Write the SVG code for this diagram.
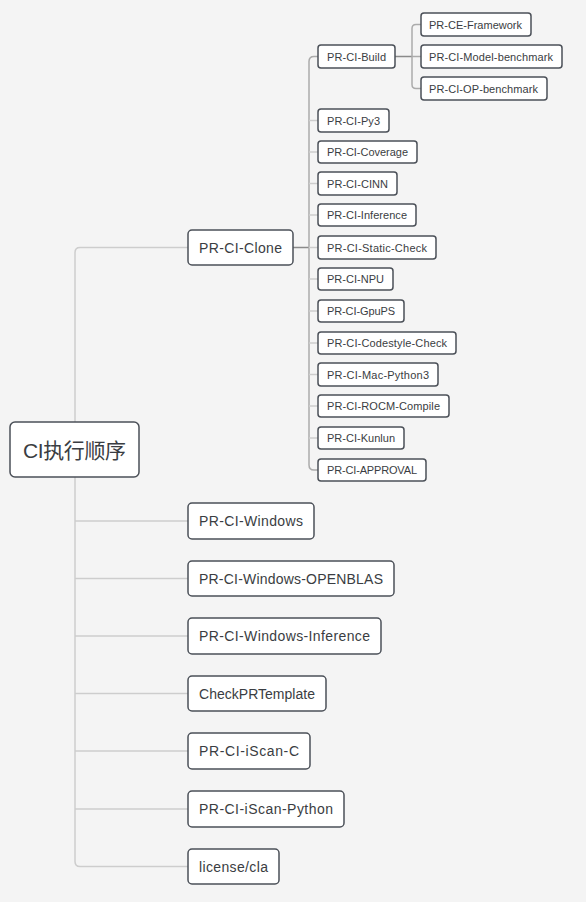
<svg xmlns="http://www.w3.org/2000/svg" width="586" height="902" viewBox="0 0 586 902">
<style>
.bg{fill:#f4f4f4}
.n rect{fill:#ffffff;stroke:#4b5058;stroke-width:1.5}
.n text{fill:#3a3d42;font-family:"Liberation Sans","Noto Sans CJK SC",Arial,sans-serif}
.l0 text{font-size:21px}
.l1 text{font-size:14px}
.l2 text{font-size:11px}
.c path{fill:none;stroke-width:1.5}
.c .soft{stroke:#cdcdcd}
.c .mid{stroke:#ababab}
.c .dark{stroke:#8a8a8a}
</style>
<rect class="bg" x="0" y="0" width="586" height="902"/>
<g id="connectors" class="c">
  <path class="soft" d="M188,247.5 H80 Q75,247.5 75,252.5 V861.5 Q75,866.5 80,866.5 H188"/>
  <path class="soft" d="M75,521 H188 M75,578.5 H188 M75,636 H188 M75,693.5 H188 M75,751 H188 M75,809 H188"/>
  <path class="dark" d="M293,247.5 H309"/>
  <path class="mid" d="M318,56.5 H314 Q309,56.5 309,61.5 V465 Q309,470 314,470 H318"/>
  <path class="soft" d="M309,120.5 H318 M309,152 H318 M309,183.5 H318 M309,215 H318 M309,247.5 H318 M309,279 H318 M309,311 H318 M309,343 H318 M309,374.5 H318 M309,406 H318 M309,438 H318"/>
  <path class="dark" d="M395,56.5 H412"/>
  <path class="mid" d="M421,24.5 H416 Q412,24.5 412,28.5 V84.5 Q412,88.5 416,88.5 H421 M412,56.5 H421"/>
</g>
<g id="root" class="n l0"><rect x="10" y="422" width="129" height="55" rx="5"/><text x="23" y="457.5" textLength="103" lengthAdjust="spacing">CI执行顺序</text></g>
<g id="clone" class="n l1"><rect x="188" y="230" width="105" height="35" rx="4"/><text x="199" y="252.5" textLength="83" lengthAdjust="spacing">PR-CI-Clone</text></g>
<g id="windows" class="n l1"><rect x="188" y="503" width="126" height="36" rx="4"/><text x="199" y="526" textLength="104" lengthAdjust="spacing">PR-CI-Windows</text></g>
<g id="openblas" class="n l1"><rect x="188" y="561" width="206" height="35" rx="4"/><text x="199" y="583.5" textLength="184" lengthAdjust="spacing">PR-CI-Windows-OPENBLAS</text></g>
<g id="wininference" class="n l1"><rect x="188" y="618" width="193" height="36" rx="4"/><text x="199" y="641" textLength="171" lengthAdjust="spacing">PR-CI-Windows-Inference</text></g>
<g id="checkpr" class="n l1"><rect x="188" y="676" width="138" height="35" rx="4"/><text x="199" y="698.5" textLength="116" lengthAdjust="spacing">CheckPRTemplate</text></g>
<g id="iscanc" class="n l1"><rect x="188" y="733" width="122" height="36" rx="4"/><text x="199" y="756" textLength="100" lengthAdjust="spacing">PR-CI-iScan-C</text></g>
<g id="iscanpy" class="n l1"><rect x="188" y="791" width="156" height="36" rx="4"/><text x="199" y="814" textLength="134" lengthAdjust="spacing">PR-CI-iScan-Python</text></g>
<g id="license" class="n l1"><rect x="188" y="849" width="91" height="35" rx="4"/><text x="199" y="871.5" textLength="69" lengthAdjust="spacing">license/cla</text></g>
<g id="build" class="n l2"><rect x="318" y="45" width="77" height="23" rx="3"/><text x="327" y="60.5" textLength="59" lengthAdjust="spacing">PR-CI-Build</text></g>
<g id="py3" class="n l2"><rect x="318" y="109" width="71" height="23" rx="3"/><text x="327" y="124.5" textLength="53" lengthAdjust="spacing">PR-CI-Py3</text></g>
<g id="coverage" class="n l2"><rect x="318" y="141" width="99" height="22" rx="3"/><text x="327" y="156" textLength="81" lengthAdjust="spacing">PR-CI-Coverage</text></g>
<g id="cinn" class="n l2"><rect x="318" y="172" width="79" height="23" rx="3"/><text x="327" y="187.5" textLength="61" lengthAdjust="spacing">PR-CI-CINN</text></g>
<g id="inference" class="n l2"><rect x="318" y="204" width="98" height="22" rx="3"/><text x="327" y="219" textLength="80" lengthAdjust="spacing">PR-CI-Inference</text></g>
<g id="static" class="n l2"><rect x="318" y="236" width="118" height="23" rx="3"/><text x="327" y="251.5" textLength="100" lengthAdjust="spacing">PR-CI-Static-Check</text></g>
<g id="npu" class="n l2"><rect x="318" y="268" width="75" height="22" rx="3"/><text x="327" y="283" textLength="57" lengthAdjust="spacing">PR-CI-NPU</text></g>
<g id="gpups" class="n l2"><rect x="318" y="300" width="86" height="22" rx="3"/><text x="327" y="315" textLength="68" lengthAdjust="spacing">PR-CI-GpuPS</text></g>
<g id="codestyle" class="n l2"><rect x="318" y="332" width="138" height="22" rx="3"/><text x="327" y="347" textLength="120" lengthAdjust="spacing">PR-CI-Codestyle-Check</text></g>
<g id="mac" class="n l2"><rect x="318" y="363" width="120" height="23" rx="3"/><text x="327" y="378.5" textLength="102" lengthAdjust="spacing">PR-CI-Mac-Python3</text></g>
<g id="rocm" class="n l2"><rect x="318" y="395" width="131" height="22" rx="3"/><text x="327" y="410" textLength="113" lengthAdjust="spacing">PR-CI-ROCM-Compile</text></g>
<g id="kunlun" class="n l2"><rect x="318" y="427" width="86" height="22" rx="3"/><text x="327" y="442" textLength="68" lengthAdjust="spacing">PR-CI-Kunlun</text></g>
<g id="approval" class="n l2"><rect x="318" y="459" width="108" height="22" rx="3"/><text x="327" y="474" textLength="90" lengthAdjust="spacing">PR-CI-APPROVAL</text></g>
<g id="ceframework" class="n l2"><rect x="421" y="13" width="110" height="23" rx="3"/><text x="429" y="28.5" textLength="93" lengthAdjust="spacing">PR-CE-Framework</text></g>
<g id="modelbench" class="n l2"><rect x="421" y="45" width="141" height="23" rx="3"/><text x="429" y="60.5" textLength="124" lengthAdjust="spacing">PR-CI-Model-benchmark</text></g>
<g id="opbench" class="n l2"><rect x="421" y="77" width="126" height="23" rx="3"/><text x="429" y="92.5" textLength="109" lengthAdjust="spacing">PR-CI-OP-benchmark</text></g>
</svg>
